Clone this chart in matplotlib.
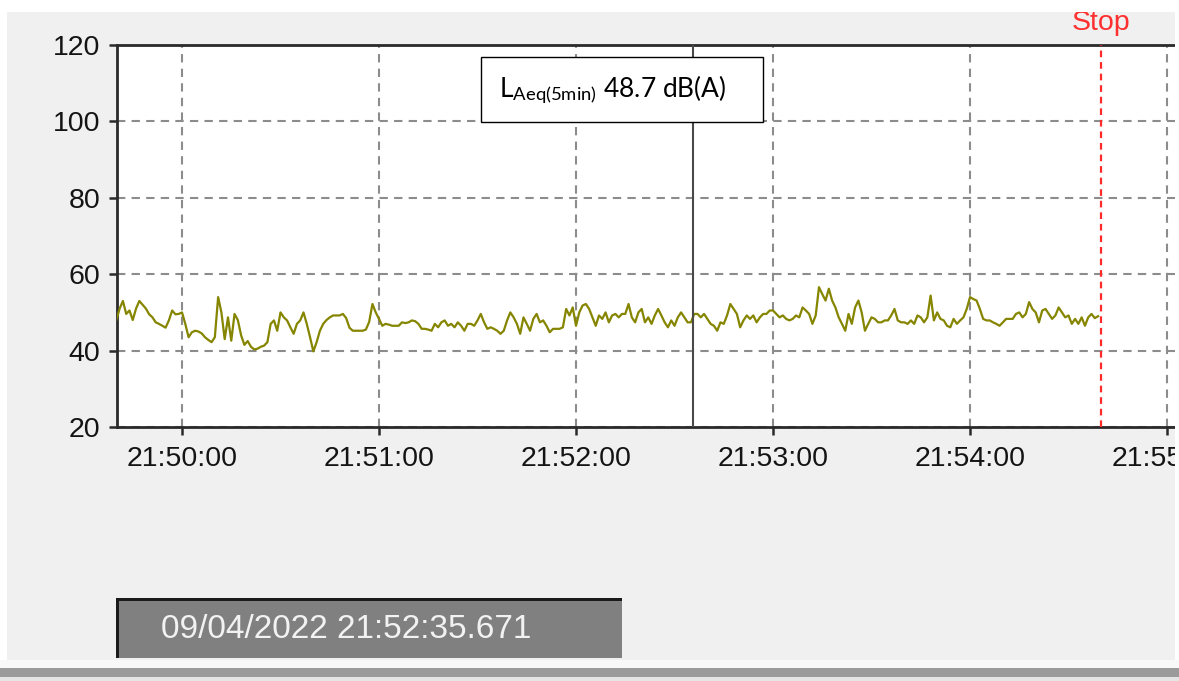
import matplotlib
matplotlib.use('Agg')
import matplotlib.pyplot as plt
import matplotlib.dates as mdates
from matplotlib.patches import Rectangle
import pandas as pd

plt.rcParams['font.family'] = ['Liberation Sans', 'DejaVu Sans']
plt.rcParams['mathtext.fontset'] = 'custom'
plt.rcParams['mathtext.rm'] = 'Lato'
plt.rcParams['mathtext.it'] = 'Lato:italic'
plt.rcParams['mathtext.bf'] = 'Lato:bold'

# niveau sonore, 1 valeur par seconde a partir de 21:49:40
level_a = [48, 51, 53, 49.6, 50.5, 48, 51, 53, 52, 51,
           49.5, 48.7, 47.4, 47, 46.5, 46, 47.9, 50.5, 49.5, 49.6,
           50, 47, 43.5, 44.8, 45.2, 45, 44.5, 43.5, 42.8, 42.2,
           43.5, 54, 50, 43, 48.7, 42.6, 49.6, 48, 44, 41.5,
           42.5, 41, 40.3, 40.5, 41, 41.3, 42.2, 47, 47.9, 45.2,
           50, 48.7, 47.9, 46.1, 44.4, 47, 47.9, 50, 47, 43.5,
           39.8, 42.2, 45.2, 47, 48, 48.7, 49.2, 49.2, 49.2, 49.6,
           48.5, 46, 45.2, 45.2, 45.2, 45.2, 45.5, 47.5, 52.2, 50,
           48.3, 46.5, 47, 46.8, 46.5, 46.5, 46.5, 47.4, 47.2, 47.4,
           47.9, 47.7, 47, 45.7, 45.7, 45.5, 45.2, 47, 46.1, 47.4,
           47.9]
level_b = [46.5, 47, 46.1, 47.4, 46.5, 45.2, 47, 47, 46.5, 47.9,
           49.6, 47.4, 45.7, 46.1, 45.7, 45.2, 44.4, 45.2, 47.9, 50,
           48.7, 47, 44.4, 48.7, 47, 45.2, 48.3, 49.6, 47.4, 47.9,
           46.5, 44.8, 45.7, 45.7, 45.7, 46.1, 50.9, 49.2, 51.3, 46.5,
           50, 51.8, 52.2, 50.9, 48.7, 46.5, 49.2, 48.3, 50, 47.4,
           49.2, 49.6, 48.7, 49.6, 49.6, 52.2, 48.7, 47.4, 50, 50.9,
           47.4, 48.7, 47, 49.2, 50.9, 49.2, 47.4, 46.1, 47.9, 46.5,
           48.7, 50, 48.7, 47.4, 47.4, 49.6, 49.6, 48.7, 49.6, 48.3,
           47, 46.5, 45.2, 47.4, 47, 49.2, 52.2, 50.9, 49.6, 46.1,
           47.9, 49.2, 48.3, 49.2, 47.4, 48.7, 49.6, 49.6, 50.5]
level_c = [50.5, 49.6, 48.7, 49.2, 48.3, 47.9, 48.3, 49.2, 48.7, 51.3,
           50.5, 49.6, 47, 49.2, 56.6, 54.8, 53.1, 56.2, 53.1, 51.3,
           48.7, 47, 45.2, 49.6, 47, 51.3, 53.1, 50, 45.2, 47,
           48.7, 48.3, 47.4, 47.4, 47.9, 47.9, 49.2, 50.9, 47.9, 47.4,
           47.4, 47, 47.9, 47, 49.2, 48.7, 47.4, 48.7, 54.4, 47.9,
           50, 48.3, 47.9, 46.5, 46.1, 48.3, 47, 47.9, 48.7, 50.9,
           54, 53.5, 53.1, 50.9, 48.3, 47.9, 47.9, 47.4, 47, 46.5,
           47.4, 48.3, 48.3, 48.3, 49.6, 50, 48.7, 49.6, 52.7, 50.9,
           50, 47.4, 50.5, 50.9, 49.6, 48.3, 49.2, 51.3, 50, 48.7,
           49.2, 47, 48.3, 47, 48.7, 46.5, 48.7, 49.6, 48.5, 49]
level = level_a + level_b + level_c

start = pd.Timestamp('2022-04-09 21:49:40')
times = pd.date_range(start, periods=len(level), freq='s')
cursor = pd.Timestamp('2022-04-09 21:52:35.671')
stop = pd.Timestamp('2022-04-09 21:54:40')
laeq = 48.7
y_ticks = [20, 40, 60, 80, 100, 120]

W, H = 1179, 681


def fx(px):
    return px / W


def fy(py):
    return 1 - py / H


fig = plt.figure(figsize=(W / 100, H / 100), dpi=100, facecolor='#f0f0f0')
ax = fig.add_axes([fx(117), fy(427), fx(1190) - fx(117), fy(45) - fy(427)])
ax.set_facecolor('white')

ax.plot(times, level, color='#858500', lw=1.6, zorder=3)
ax.axvline(cursor, color='#4a4a4a', lw=1.5, zorder=4)
ax.axvline(stop, color='#ff2a2a', lw=1.6, ls=(0, (3, 2.2)), zorder=4)
ax.text(stop, 1.038, 'Stop', transform=ax.get_xaxis_transform(), color='#ff3030',
        fontsize=20.5, ha='center', va='baseline')

ax.set_ylim(20, 120)
ax.set_yticks(y_ticks)
ax.set_xlim(pd.Timestamp('2022-04-09 21:49:40.2'), pd.Timestamp('2022-04-09 21:55:07'))
ax.xaxis.set_major_locator(mdates.MinuteLocator())
ax.xaxis.set_major_formatter(mdates.DateFormatter('%H:%M:%S'))

ax.grid(True, color='#8c8c8c', lw=1.5, ls=(0, (4, 3)))
ax.set_axisbelow(True)
for s in ['left', 'top', 'bottom']:
    ax.spines[s].set_color('#2a2a2a')
    ax.spines[s].set_linewidth(2)
ax.spines['right'].set_visible(False)
ax.tick_params(direction='out', length=6, width=1.8, color='#2a2a2a',
               labelsize=20.5, labelcolor='#141414')
ax.tick_params(axis='y', pad=6)
ax.tick_params(axis='x', pad=8)

# cadre LAeq
fig.add_artist(Rectangle((fx(481), fy(122)), fx(763) - fx(481), fy(57) - fy(122),
                         transform=fig.transFigure, facecolor='white',
                         edgecolor='black', lw=1, zorder=5))
fig.text(fx(613), fy(97), r'L$_{\mathrm{Aeq(5min)}}$ ' + f'{laeq:.1f} dB(A)',
         family='Lato', fontsize=19, ha='center', va='baseline', color='black', zorder=6)

# bandes blanches autour de la capture
fig.add_artist(Rectangle((0, fy(12)), 1, fy(0) - fy(12), transform=fig.transFigure,
                         facecolor='white', edgecolor='none', zorder=5))
fig.add_artist(Rectangle((0, 0), fx(7), 1, transform=fig.transFigure,
                         facecolor='white', edgecolor='none', zorder=5))
fig.add_artist(Rectangle((fx(1175), 0), 1 - fx(1175), 1, transform=fig.transFigure,
                         facecolor='white', edgecolor='none', zorder=5))
fig.add_artist(Rectangle((0, fy(668)), 1, fy(660) - fy(668), transform=fig.transFigure,
                         facecolor='#f8f8f8', edgecolor='none', zorder=5))
fig.add_artist(Rectangle((0, fy(677)), 1, fy(668) - fy(677), transform=fig.transFigure,
                         facecolor='#9a9a9a', edgecolor='none', zorder=5))
fig.add_artist(Rectangle((0, 0), 1, fy(677), transform=fig.transFigure,
                         facecolor='#e4e4e4', edgecolor='none', zorder=5))

# affichage date du curseur
fig.add_artist(Rectangle((fx(117), fy(658)), fx(622) - fx(117), fy(598) - fy(658),
                         transform=fig.transFigure, facecolor='#808080',
                         edgecolor='none', zorder=5))
fig.add_artist(Rectangle((fx(116), fy(601)), fx(622) - fx(116), fy(598) - fy(601),
                         transform=fig.transFigure, facecolor='#1a1a1a',
                         edgecolor='none', zorder=6))
fig.add_artist(Rectangle((fx(116), fy(658)), fx(119) - fx(116), fy(598) - fy(658),
                         transform=fig.transFigure, facecolor='#1a1a1a',
                         edgecolor='none', zorder=6))
label = cursor.strftime('%d/%m/%Y %H:%M:%S.') + f'{cursor.microsecond // 1000:03d}'
fig.text(fx(346), fy(629), label, family='Liberation Sans',
         fontsize=24, color='#f2f2f2', ha='center', va='center', zorder=7)

fig.savefig('out.png', dpi=100, facecolor=fig.get_facecolor())
